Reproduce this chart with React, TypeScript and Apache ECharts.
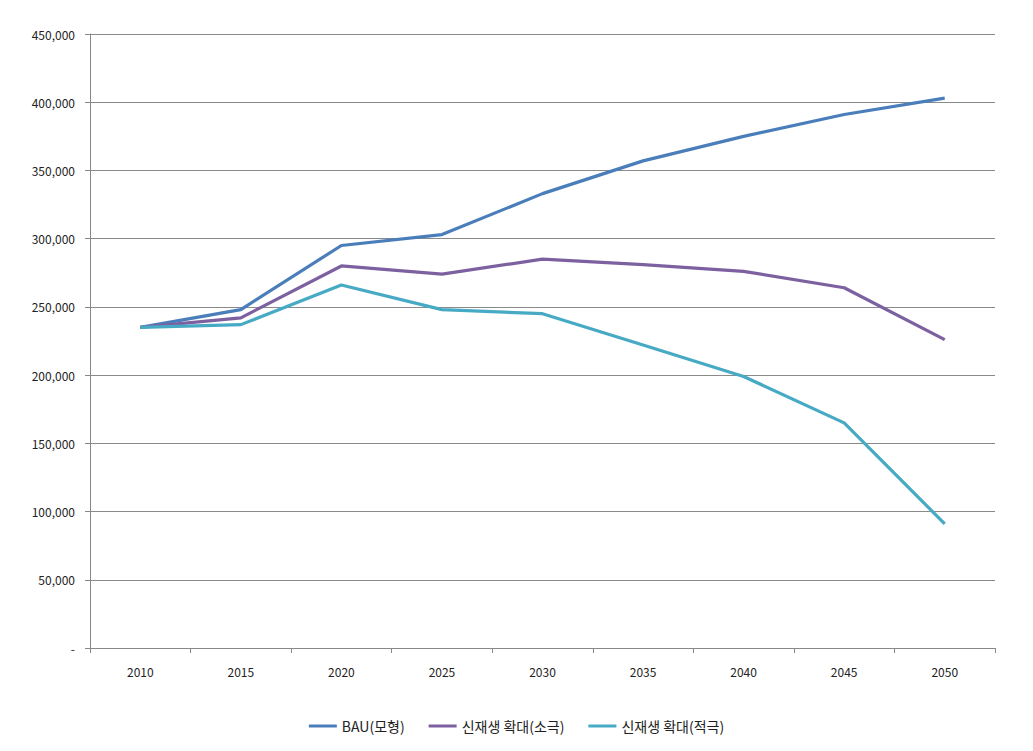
import React, { useEffect, useRef } from "react";
import * as echarts from "echarts";

const years = ["2010", "2015", "2020", "2025", "2030", "2035", "2040", "2045", "2050"];
const bau = [235000, 248000, 295000, 303000, 333000, 357000, 375000, 391000, 403000];
const moderate = [235000, 242000, 280000, 274000, 285000, 281000, 276000, 264000, 226000];
const aggressive = [235000, 237000, 266000, 248000, 245000, 222000, 199000, 165000, 91000];
const seriesNames = ["BAU(모형)", "신재생 확대(소극)", "신재생 확대(적극)"];
const colors = ["#4A7EBB", "#7D60A0", "#46AAC5"];

export default function App() {
  const ref = useRef<HTMLDivElement>(null);
  useEffect(() => {
    if (!ref.current) return;
    const chart = echarts.init(ref.current, null, { renderer: "svg" });
    const font = "'Noto Sans CJK KR', 'Noto Sans', sans-serif";
    const mk = (name: string, data: number[], color: string) => ({
      name,
      type: "line",
      data,
      symbol: "none",
      lineStyle: { width: 3.2, color },
      itemStyle: { color },
    });
    chart.setOption({
      animation: false,
      backgroundColor: "#ffffff",
      textStyle: { fontFamily: font },
      grid: { left: 90, right: 38, top: 34, bottom: 103 },
      legend: {
        bottom: 13,
        left: "center",
        itemWidth: 28,
        itemHeight: 3,
        itemGap: 24,
        icon: "rect",
        textStyle: { fontSize: 14, color: "#222", fontFamily: font },
        data: seriesNames,
      },
      xAxis: {
        type: "category",
        data: years,
        boundaryGap: true,
        axisLine: { lineStyle: { color: "#888", width: 1 } },
        axisTick: { show: true, length: 5, inside: false, lineStyle: { color: "#888" } },
        axisLabel: { margin: 17, fontSize: 12, color: "#222", fontFamily: font },
        splitLine: { show: false },
      },
      yAxis: {
        type: "value",
        min: 0,
        max: 450000,
        interval: 50000,
        axisLine: { show: true, lineStyle: { color: "#888", width: 1 } },
        axisTick: { show: true, length: 5, lineStyle: { color: "#888" } },
        axisLabel: {
          margin: 15,
          fontSize: 12,
          color: "#222",
          fontFamily: font,
          formatter: (v: number) => (v === 0 ? "-" : v.toLocaleString("en-US")),
        },
        splitLine: { show: true, lineStyle: { color: "#8a8a8a", width: 1 } },
      },
      series: [
        mk(seriesNames[0], bau, colors[0]),
        mk(seriesNames[1], moderate, colors[1]),
        mk(seriesNames[2], aggressive, colors[2]),
      ],
    });
    return () => chart.dispose();
  }, []);
  return (
    <div
      ref={ref}
      style={{ position: "fixed", left: 0, top: 0, width: 1033, height: 751, background: "#fff" }}
    />
  );
}
